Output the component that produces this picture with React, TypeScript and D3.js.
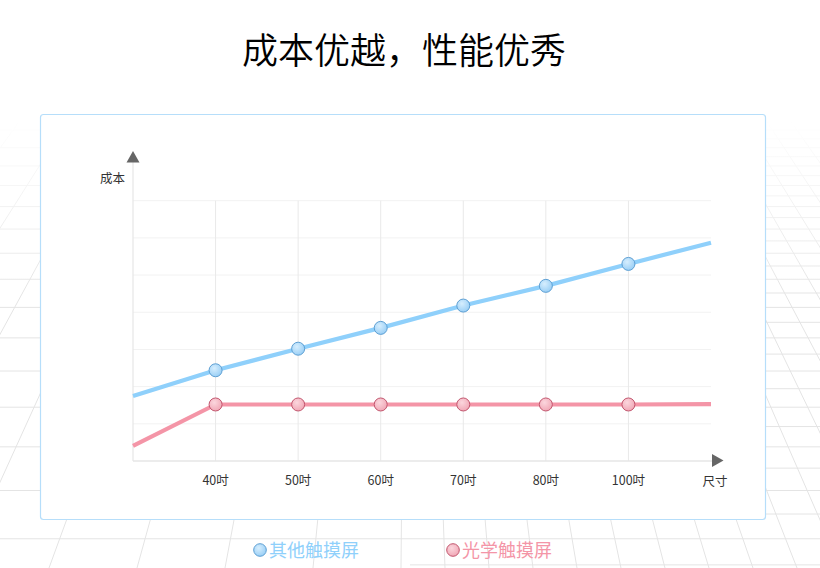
import * as d3 from 'd3';

// 横轴：起点与终点没有标签，中间六个尺寸
const sizeLabels = ['', '40吋', '50吋', '60吋', '70吋', '80吋', '100吋', ''];
// 成本（按网格单位估读）
const otherCost = [1.75, 2.44, 3.02, 3.58, 4.18, 4.71, 5.3, 5.87];
const opticalCost = [0.41, 1.52, 1.52, 1.52, 1.52, 1.52, 1.52, 1.53];
const gridRows = [1, 2, 3, 4, 5, 6, 7];

const seriesNames = ['其他触摸屏', '光学触摸屏'];
const title = '成本优越，性能优秀';

const W = 820, H = 568;
const FONT = '"Noto Sans CJK SC", "Noto Sans", sans-serif';

const BLUE = '#8fd0fb';
const RED = '#f495a7';

function FloorGrid() {
  // decorative perspective floor behind the card
  const vx = 410, vy = -420;
  const rows: number[] = [];
  const halfRows: number[] = [];
  for (let k = -14; k < 12; k++) {
    const inv = 0.001043 - k * 0.0000553;
    const invH = 0.001043 - (k + 0.5) * 0.0000553;
    if (inv > 0) rows.push(vy + 1 / inv);
    if (invH > 0) halfRows.push(vy + 1 / invH);
  }
  const cols = d3.range(-8, 9).map(k => 401 + 88 * k);
  const colsHalf = d3.range(-16, 17).map(k => 401 + 44 * k);
  const ray = (x0: number) => {
    // line through the vanishing point and (x0, bottom)
    const t = (100 - vy) / (H - vy);
    return { x1: vx + (x0 - vx) * t, y1: 100, x2: x0 + (x0 - vx) * 0.2, y2: H + (H - vy) * 0.2 };
  };
  return (
    <g mask="url(#fadeMask)" stroke="#e4e4e4" strokeWidth={1} fill="none">
      <g clipPath="url(#leftHalf)">
        {rows.map((y, i) => <line key={'r' + i} x1={0} x2={W} y1={y} y2={y} />)}
        {cols.map((x, i) => <line key={'c' + i} {...ray(x)} />)}
      </g>
      <g clipPath="url(#rightHalf)">
        {rows.concat(halfRows).map((y, i) => <line key={'rr' + i} x1={0} x2={W} y1={y} y2={y} />)}
        {colsHalf.map((x, i) => <line key={'cc' + i} {...ray(x)} />)}
      </g>
    </g>
  );
}

function Chart() {
  const left = 133, right = 711, top = 200.7, bottom = 461;
  const x = d3.scaleLinear().domain([0, sizeLabels.length - 1]).range([left, right]);
  const y = d3.scaleLinear().domain([0, 7]).range([bottom, top]);
  const line = d3.line<number>().x((_, i) => x(i)).y(d => y(d));
  const idx = d3.range(sizeLabels.length);
  const labeled = idx.filter(i => sizeLabels[i] !== '');

  return (
    <g fontFamily={FONT}>
      {/* horizontal grid */}
      {gridRows.map(v => (
        <line key={'h' + v} x1={left} x2={right} y1={y(v)} y2={y(v)} stroke="#f2f2f2" strokeWidth={1} />
      ))}
      {/* vertical grid */}
      {labeled.map(i => (
        <line key={'v' + i} x1={x(i)} x2={x(i)} y1={top} y2={bottom} stroke="#e9e9e9" strokeWidth={1} />
      ))}
      {/* axes */}
      <line x1={left} x2={left} y1={162} y2={bottom} stroke="#e6e6e6" strokeWidth={1.2} />
      <line x1={left} x2={712} y1={bottom} y2={bottom} stroke="#e6e6e6" strokeWidth={1.5} />
      <path d={`M${left - 6.5},162.5 L${left + 6.5},162.5 L${left},151 Z`} fill="#666" />
      <path d={`M712,454 L712,467 L723.5,460.5 Z`} fill="#666" />
      <text x={125} y={183} textAnchor="end" fontSize={12.5} fill="#333">成本</text>
      <text x={715} y={486} textAnchor="middle" fontSize={12.5} fill="#333">尺寸</text>
      {labeled.map(i => (
        <text key={'t' + i} x={x(i)} y={485} textAnchor="middle" fontSize={12.5} fill="#333">{sizeLabels[i]}</text>
      ))}

      {/* series */}
      <path d={line(otherCost) ?? ''} fill="none" stroke={BLUE} strokeWidth={4.2} />
      <path d={line(opticalCost) ?? ''} fill="none" stroke={RED} strokeWidth={4.2} />
      {labeled.map(i => (
        <circle key={'b' + i} cx={x(i)} cy={y(otherCost[i])} r={6.5} fill="url(#blueDot)" stroke="#5d9fd3" strokeWidth={1} />
      ))}
      {labeled.map(i => (
        <circle key={'p' + i} cx={x(i)} cy={y(opticalCost[i])} r={6.5} fill="url(#redDot)" stroke="#c2566e" strokeWidth={1} />
      ))}
    </g>
  );
}

export default function App() {
  return (
    <svg
      width={W}
      height={H}
      viewBox={`0 0 ${W} ${H}`}
      style={{ position: 'absolute', left: 0, top: 0, background: '#fff' }}
    >
      <defs>
        <linearGradient id="fadeGrad" gradientUnits="userSpaceOnUse" x1={0} y1={120} x2={0} y2={300}>
          <stop offset="0" stopColor="#fff" stopOpacity={0} />
          <stop offset="1" stopColor="#fff" stopOpacity={1} />
        </linearGradient>
        <mask id="fadeMask" maskUnits="userSpaceOnUse" x={0} y={0} width={W} height={H}>
          <rect x={0} y={0} width={W} height={H} fill="url(#fadeGrad)" />
        </mask>
        <clipPath id="leftHalf"><rect x={0} y={0} width={410} height={H} /></clipPath>
        <clipPath id="rightHalf"><rect x={410} y={0} width={410} height={H} /></clipPath>
        <radialGradient id="blueDot" cx="0.4" cy="0.35" r="0.7">
          <stop offset="0" stopColor="#d6eefe" />
          <stop offset="1" stopColor="#96cdf5" />
        </radialGradient>
        <radialGradient id="redDot" cx="0.4" cy="0.35" r="0.7">
          <stop offset="0" stopColor="#fbd6dd" />
          <stop offset="1" stopColor="#f0a5b4" />
        </radialGradient>
      </defs>

      <FloorGrid />

      <text x={404} y={64} textAnchor="middle" fontFamily={FONT} fontSize={36} fontWeight={350} fill="#000">{title}</text>

      <rect x={40.5} y={114.5} width={725} height={405} rx={3} fill="#fff" stroke="#b6defa" strokeWidth={1.2} />

      <Chart />

      {/* legend */}
      <g fontFamily={FONT} fontSize={18}>
        <circle cx={260} cy={550} r={6.3} fill="url(#blueDot)" stroke="#5d9fd3" strokeWidth={1} />
        <text x={269} y={556.5} fill={BLUE}>{seriesNames[0]}</text>
        <circle cx={453} cy={550} r={6.3} fill="url(#redDot)" stroke="#c2566e" strokeWidth={1} />
        <text x={462} y={556.5} fill={RED}>{seriesNames[1]}</text>
      </g>
    </svg>
  );
}
